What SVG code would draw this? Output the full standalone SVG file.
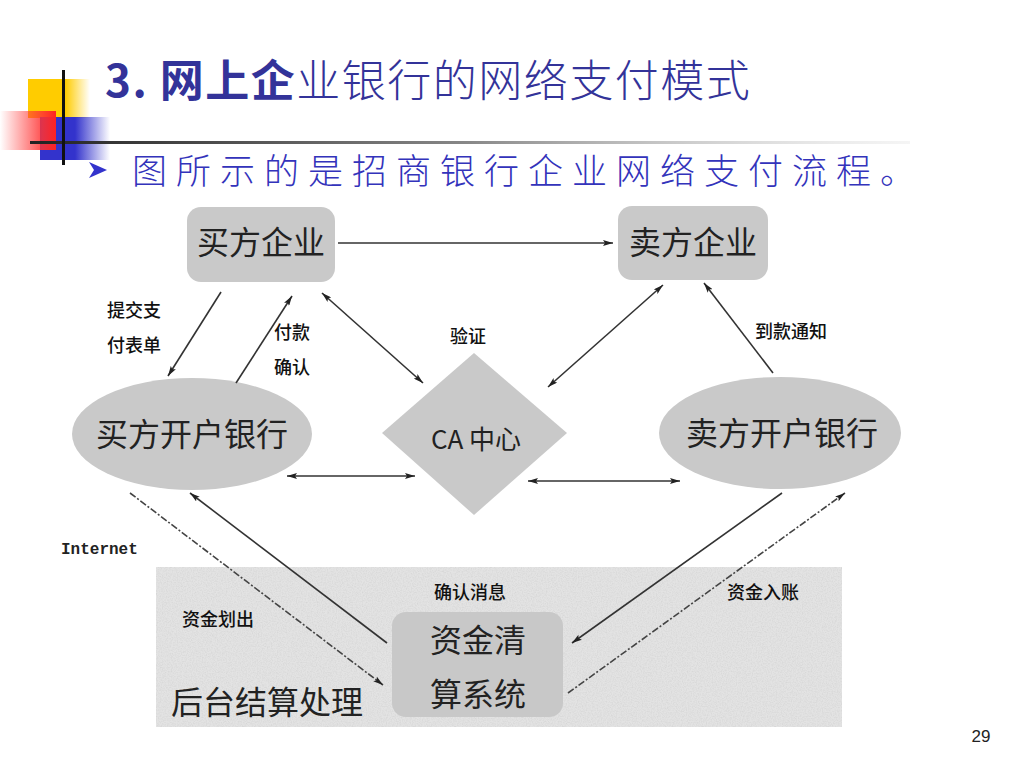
<svg xmlns="http://www.w3.org/2000/svg" width="1024" height="768" viewBox="0 0 1024 768">
<style>
.node{fill:#c9c9c9;stroke:none;}
.nlabel{font-family:"Noto Sans CJK SC",sans-serif;font-size:32px;fill:#222;text-anchor:middle;}
.slabel{font-family:"Noto Sans CJK SC",sans-serif;font-size:18px;font-weight:500;fill:#111;}
.ln{stroke:#333;stroke-width:1.6;fill:none;}
.dash{stroke:#444;stroke-width:1.6;fill:none;stroke-dasharray:7 2 2 2;}
</style>
<defs>
<marker id="ah" viewBox="0 0 10 6" refX="10" refY="3" markerWidth="10" markerHeight="6" markerUnits="userSpaceOnUse" orient="auto-start-reverse">
<path d="M0,0 L10,3 L0,6 L2,3 z" fill="#222"/>
</marker>
<linearGradient id="gYel" x1="0" y1="0" x2="1" y2="0">
<stop offset="0" stop-color="#ffcc00"/><stop offset="0.6" stop-color="#ffcc00"/><stop offset="1" stop-color="#ffcc00" stop-opacity="0"/>
</linearGradient>
<linearGradient id="gBlue" x1="0" y1="0" x2="1" y2="0">
<stop offset="0" stop-color="#3333cc"/><stop offset="0.5" stop-color="#3333cc"/><stop offset="1" stop-color="#3333cc" stop-opacity="0"/>
</linearGradient>
<linearGradient id="gRed" x1="0" y1="0" x2="1" y2="0">
<stop offset="0" stop-color="#ff3333" stop-opacity="0"/><stop offset="0.75" stop-color="#ff3333" stop-opacity="0.85"/><stop offset="1" stop-color="#ff2222"/>
</linearGradient>
<linearGradient id="gLine" x1="0" y1="0" x2="1" y2="0">
<stop offset="0" stop-color="#222"/><stop offset="0.5" stop-color="#888"/><stop offset="1" stop-color="#ddd" stop-opacity="0.3"/>
</linearGradient>
<filter id="tex" x="0" y="0" width="100%" height="100%">
<feTurbulence type="fractalNoise" baseFrequency="0.8" numOctaves="2" seed="3" result="n"/>
<feColorMatrix in="n" type="matrix" values="0 0 0 0 0.5  0 0 0 0 0.5  0 0 0 0 0.5  0.6 0 0 0 -0.22"/>
</filter>
</defs>
<rect width="1024" height="768" fill="#ffffff"/>

<g id="decor">
<rect x="28" y="79" width="62" height="39" fill="url(#gYel)"/>
<rect x="40" y="117" width="70" height="43" fill="url(#gBlue)"/>
<rect x="0" y="111" width="56" height="39" fill="url(#gRed)"/>
<rect x="30" y="141" width="880" height="3" fill="url(#gLine)"/>
<rect x="62" y="70" width="3" height="95" fill="#111"/>
</g>

<text x="105" y="97" font-family="Noto Sans CJK SC, sans-serif" font-size="44" fill="#333399" letter-spacing="1.5"><tspan font-weight="bold">3. 网上企</tspan><tspan font-weight="300">业银行的网络支付模式</tspan></text>
<polygon points="89,162 107,170 89,178 94,170" fill="#3333cc"/>
<text x="132" y="184" font-family="Noto Sans CJK SC, sans-serif" font-size="35" font-weight="300" fill="#3333bb" letter-spacing="9">图所示的是招商银行企业网络支付流程。</text>

<g id="settlement-area">
<rect x="156" y="567" width="686" height="160" fill="#e3e3e3"/>
<rect x="156" y="567" width="686" height="160" filter="url(#tex)"/>
</g>

<g id="buyer-enterprise">
<rect class="node" x="187" y="207" width="148" height="75" rx="14"/>
<text class="nlabel" x="261" y="254">买方企业</text>
</g>
<g id="seller-enterprise">
<rect class="node" x="618" y="206" width="150" height="74" rx="14"/>
<text class="nlabel" x="693" y="254">卖方企业</text>
</g>
<g id="buyer-bank">
<ellipse class="node" cx="192" cy="434" rx="120" ry="56"/>
<text class="nlabel" x="192" y="446">买方开户银行</text>
</g>
<g id="seller-bank">
<ellipse class="node" cx="780" cy="433" rx="121" ry="56"/>
<text class="nlabel" x="782" y="445">卖方开户银行</text>
</g>
<g id="ca-center">
<polygon class="node" points="474,353 567,433 474,515 382,433"/>
<text x="476" y="449" font-family="Noto Sans CJK SC, sans-serif" font-size="26" fill="#222" text-anchor="middle">CA 中心</text>
</g>
<g id="clearing-system">
<rect x="392" y="612" width="171" height="105" rx="14" fill="#c8c8c8"/>
<text class="nlabel" x="478" y="652" font-size="30">资金清</text>
<text class="nlabel" x="478" y="706" font-size="30">算系统</text>
</g>

<g id="connectors">
<line class="ln" x1="338" y1="243" x2="613" y2="243" marker-end="url(#ah)"/>
<line class="ln" x1="221" y1="292" x2="168" y2="376" marker-end="url(#ah)"/>
<line class="ln" x1="236" y1="383" x2="292" y2="296" marker-end="url(#ah)"/>
<line class="ln" x1="322" y1="293" x2="423" y2="383" marker-start="url(#ah)" marker-end="url(#ah)"/>
<line class="ln" x1="663" y1="285" x2="548" y2="387" marker-start="url(#ah)" marker-end="url(#ah)"/>
<line class="ln" x1="773" y1="373" x2="704" y2="283" marker-end="url(#ah)"/>
<line class="ln" x1="287" y1="476" x2="415" y2="476" marker-start="url(#ah)" marker-end="url(#ah)"/>
<line class="ln" x1="528" y1="481" x2="680" y2="481" marker-start="url(#ah)" marker-end="url(#ah)"/>
<line class="dash" x1="130" y1="493" x2="383" y2="685" marker-end="url(#ah)"/>
<line class="ln" x1="387" y1="643" x2="190" y2="493" marker-end="url(#ah)"/>
<line class="ln" x1="782" y1="493" x2="572" y2="643" marker-end="url(#ah)"/>
<line class="dash" x1="568" y1="693" x2="845" y2="493" marker-end="url(#ah)"/>
</g>

<g id="labels">
<text class="slabel" x="107" y="317">提交支</text>
<text class="slabel" x="107" y="352">付表单</text>
<text class="slabel" x="274" y="339">付款</text>
<text class="slabel" x="274" y="374">确认</text>
<text class="slabel" x="450" y="343">验证</text>
<text class="slabel" x="755" y="338">到款通知</text>
<text x="61" y="554" font-family="Liberation Mono, monospace" font-size="16" font-weight="bold" fill="#222">Internet</text>
<text class="slabel" x="182" y="626">资金划出</text>
<text class="slabel" x="434" y="599">确认消息</text>
<text class="slabel" x="727" y="599">资金入账</text>
<text class="nlabel" x="267" y="714" font-size="32">后台结算处理</text>
<text x="981" y="742" font-family="Liberation Sans, sans-serif" font-size="17" fill="#222" text-anchor="middle">29</text>
</g>
</svg>
